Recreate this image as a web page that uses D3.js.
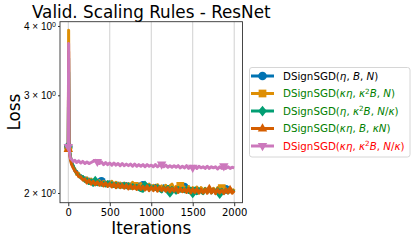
<!DOCTYPE html>
<html><head><meta charset="utf-8">
<script src="https://cdn.jsdelivr.net/npm/d3@7"></script>
<style>body{margin:0;background:#fff}svg{display:block;font-family:"DejaVu Sans",sans-serif}</style>
</head><body><svg id="c" width="415" height="242"></svg>
<script>
const iters = [0,4,8,15,25,40,60,80,100,125,
  150,175,200,225,250,275,300,325,350,375,
  400,425,450,475,500,525,550,575,600,625,
  650,675,700,725,750,775,800,825,850,875,
  900,925,950,975,1000,1025,1050,1075,1100,1125,
  1150,1175,1200,1225,1250,1275,1300,1325,1350,1375,
  1400,1425,1450,1475,1500,1525,1550,1575,1600,1625,
  1650,1675,1700,1725,1750,1775,1800,1825,1850,1875,
  1900,1925,1950,1975,2000];
const lossBlue = [2.42,3.50,2.45,2.37,2.33,2.26,2.24,2.19,2.19,2.15,
  2.15,2.12,2.13,2.09,2.12,2.09,2.11,2.075,2.10,2.07,
  2.10,2.065,2.09,2.06,2.095,2.06,2.085,2.055,2.085,2.06,
  2.08,2.05,2.08,2.045,2.075,2.05,2.07,2.04,2.075,2.045,
  2.065,2.035,2.07,2.04,2.06,2.03,2.065,2.035,2.055,2.03,
  2.06,2.025,2.05,2.03,2.055,2.02,2.05,2.025,2.045,2.02,
  2.05,2.015,2.045,2.02,2.04,2.015,2.045,2.01,2.04,2.015,
  2.035,2.01,2.04,2.005,2.035,2.01,2.035,2.005,2.03,2.01,
  2.03,2.005,2.03,2.01,2.025];
const lossOrange = [2.41,3.93,2.47,2.39,2.32,2.28,2.22,2.21,2.16,2.17,
  2.13,2.14,2.10,2.13,2.09,2.12,2.08,2.11,2.075,2.105,
  2.07,2.10,2.065,2.095,2.07,2.10,2.055,2.09,2.06,2.085,
  2.05,2.085,2.055,2.08,2.045,2.09,2.06,2.075,2.04,2.08,
  2.045,2.07,2.035,2.075,2.04,2.065,2.03,2.07,2.035,2.06,
  2.03,2.065,2.025,2.06,2.075,2.03,2.055,2.02,2.06,2.025,
  2.05,2.015,2.055,2.02,2.045,2.015,2.05,2.01,2.045,2.015,
  2.04,2.01,2.045,2.005,2.04,2.01,2.045,2.005,2.04,2.01,
  2.035,2.005,2.04,2.01,2.035];
const lossGreen = [2.43,3.30,2.44,2.38,2.33,2.27,2.23,2.20,2.17,2.16,
  2.13,2.14,2.10,2.12,2.08,2.11,2.065,2.10,2.07,2.095,
  2.065,2.09,2.06,2.095,2.065,2.085,2.055,2.08,2.05,2.075,
  2.05,2.08,2.045,2.075,2.04,2.07,2.045,2.065,2.03,2.02,
  2.015,2.06,2.04,2.065,2.035,2.055,2.03,2.06,2.025,2.01,
  2.05,2.02,2.055,2.005,2.045,2.02,2.0,2.045,2.015,2.04,
  2.01,2.045,2.005,2.04,2.0,2.04,1.995,2.035,2.01,1.995,
  2.035,2.005,2.04,2.0,2.03,2.005,2.035,1.995,2.03,2.0,
  2.03,2.0,2.03,2.005,2.025];
const lossDark = [2.40,3.60,2.43,2.36,2.30,2.25,2.22,2.19,2.18,2.14,
  2.14,2.11,2.12,2.085,2.11,2.075,2.10,2.07,2.095,2.065,
  2.09,2.06,2.085,2.055,2.08,2.05,2.08,2.045,2.075,2.045,
  2.07,2.04,2.07,2.035,2.065,2.035,2.06,2.03,2.06,2.03,
  2.055,2.025,2.06,2.02,2.05,2.02,2.055,2.015,2.05,2.02,
  2.045,2.015,2.045,2.01,2.04,2.015,2.045,2.005,2.04,2.01,
  2.035,2.005,2.04,2.0,2.035,2.005,2.035,1.998,2.03,2.0,
  2.03,1.998,2.035,2.0,2.03,1.995,2.03,2.0,2.025,1.995,
  2.03,2.0,2.025,1.998,2.02];
const lossPink = [2.42,3.72,2.46,2.36,2.31,2.30,2.28,2.29,2.27,2.285,
  2.265,2.28,2.26,2.275,2.26,2.27,2.28,2.29,2.275,2.26,
  2.275,2.25,2.27,2.25,2.265,2.245,2.265,2.245,2.26,2.24,
  2.26,2.24,2.255,2.24,2.255,2.235,2.255,2.235,2.25,2.235,
  2.25,2.23,2.25,2.235,2.245,2.23,2.25,2.23,2.245,2.25,
  2.23,2.245,2.225,2.24,2.225,2.24,2.225,2.24,2.22,2.235,
  2.22,2.24,2.215,2.235,2.22,2.235,2.215,2.235,2.22,2.23,
  2.215,2.235,2.215,2.23,2.22,2.23,2.21,2.23,2.215,2.235,
  2.215,2.23,2.215,2.225,2.22];
const markBlue = [0,400,900,1400,1900];
const markOrange = [0,800,1350,1850];
const markGreen = [0,325,925,1225,1500,1825];
const markDark = [0,1700,1950];
const markPink = [0,350,1125,1500,1875];
const labels = ["DSignSGD(η, B, N)","DSignSGD(κη, κ^2B, N)","DSignSGD(η, κ^2B, N/κ)","DSignSGD(κη, B, κN)","DSignSGD(κη, κ^2B, N/κ)"];
const xTicks = [0,500,1000,1500,2000];
const yTicks = [2,3,4];
const yTickLabels = ["2","3","4"];
const title = "Valid. Scaling Rules - ResNet";
const xLabel = "Iterations", yLabel = "Loss";

const series = [
  {v:lossBlue, m:markBlue, c:"#0173b2", s:"circle", tc:"#000"},
  {v:lossOrange, m:markOrange, c:"#de8f05", s:"square", tc:"#008000"},
  {v:lossGreen, m:markGreen, c:"#029e73", s:"diamond", tc:"#008000"},
  {v:lossDark, m:markDark, c:"#d55e00", s:"triup", tc:"#008000"},
  {v:lossPink, m:markPink, c:"#cc78bc", s:"tridown", tc:"#ff0000"}
];

const svg = d3.select("#c");
svg.append("rect").attr("width",415).attr("height",242).attr("fill","#fff");
const L=60, R=242.5, T=21.7, B=202.7;
const x = d3.scaleLinear().domain([-100,2100]).range([L,R]);
const y = d3.scaleLog().domain([1.921,4.072]).range([B,T]);

function markerPath(s, r){
  if(s==="diamond") return `M0,${-r*1.25}L${r*1.0},0L0,${r*1.25}L${-r*1.0},0Z`;
  if(s==="triup") return `M0,${-r*1.2}L${r*1.1},${r*0.7}L${-r*1.1},${r*0.7}Z`;
  if(s==="tridown") return `M0,${r*1.2}L${r*1.1},${-r*0.7}L${-r*1.1},${-r*0.7}Z`;
  if(s==="square") return `M${-r*0.9},${-r*0.9}H${r*0.9}V${r*0.9}H${-r*0.9}Z`;
  return d3.symbol(d3.symbolCircle, Math.PI*r*r)();
}

// grid
svg.append("g").selectAll("line").data(xTicks).join("line")
  .attr("x1",d=>x(d)).attr("x2",d=>x(d)).attr("y1",T).attr("y2",B)
  .attr("stroke","#d0d0d0").attr("stroke-width",1);

svg.append("clipPath").attr("id","clip").append("rect").attr("x",L).attr("y",T).attr("width",R-L).attr("height",B-T);
const plot = svg.append("g").attr("clip-path","url(#clip)");
const line = d3.line().x((d,i)=>x(iters[i])).y(d=>y(d));
series.forEach(s=>{
  plot.append("path").attr("d",line(s.v)).attr("fill","none").attr("stroke",s.c)
    .attr("stroke-width",3).attr("stroke-linejoin","round");
  s.m.forEach(it=>{
    const i = iters.indexOf(it);
    plot.append("path").attr("d",markerPath(s.s,4.3))
      .attr("transform",`translate(${x(iters[i])},${y(s.v[i])})`).attr("fill",s.c);
  });
});

// frame
svg.append("rect").attr("x",L).attr("y",T).attr("width",R-L).attr("height",B-T)
  .attr("fill","none").attr("stroke","#333").attr("stroke-width",0.9);

// x axis
const xa = svg.append("g").attr("transform",`translate(0,${B})`)
  .call(d3.axisBottom(x).tickValues(xTicks).tickSize(3.5).tickPadding(3).tickFormat(d3.format("d")));
xa.select(".domain").remove();
xa.selectAll("line").attr("stroke","#333");
xa.selectAll("text").attr("font-size",10).attr("font-family","DejaVu Sans").attr("fill","#000");

// y axis
const ya = svg.append("g").attr("transform",`translate(${L},0)`)
  .call(d3.axisLeft(y).tickValues(yTicks).tickSize(2).tickPadding(3).tickFormat(""));
ya.select(".domain").remove();
ya.selectAll("line").attr("stroke","#333");
ya.selectAll(".tick text").remove();
ya.selectAll(".tick").each(function(d,i){
  const t = d3.select(this).append("text").attr("x",-4).attr("dy","0.32em").attr("text-anchor","end")
    .attr("font-size",10).attr("fill","#000");
  t.append("tspan").text(yTickLabels[i]+" × 10");
  t.append("tspan").attr("font-size",7).attr("dy","-0.45em").text("0");
});

svg.append("text").attr("x",(L+R)/2).attr("y",17.5).attr("text-anchor","middle")
  .attr("font-size",16.8).attr("fill","#000").text(title);
svg.append("text").attr("x",(L+R)/2).attr("y",234).attr("text-anchor","middle")
  .attr("font-size",16.8).attr("fill","#000").text(xLabel);
svg.append("text").attr("transform",`translate(20,${(T+B)/2}) rotate(-90)`).attr("text-anchor","middle")
  .attr("font-size",16.8).attr("fill","#000").text(yLabel);

// legend
const lg = svg.append("g");
lg.append("rect").attr("x",249.5).attr("y",67.5).attr("width",160.5).attr("height",89.5).attr("rx",2.5)
  .attr("fill","#fff").attr("stroke","#d6d6d6").attr("stroke-width",1);
series.forEach((s,i)=>{
  const yy = 76 + i*17.5;
  lg.append("line").attr("x1",251).attr("x2",274).attr("y1",yy).attr("y2",yy).attr("stroke",s.c).attr("stroke-width",3);
  lg.append("path").attr("d",markerPath(s.s,4.3)).attr("transform",`translate(262.5,${yy})`).attr("fill",s.c);
  const t = lg.append("text").attr("x",283).attr("y",yy).attr("dy","0.35em").attr("font-size",10.3).attr("fill",s.tc);
  const lab = labels[i];
  const open = lab.indexOf("(");
  t.append("tspan").text(lab.slice(0,open+1));
  const inner = lab.slice(open+1, lab.length-1);
  let k=0, reset=false;
  while(k<inner.length){
    if(inner.startsWith("^2",k)){
      t.append("tspan").attr("font-size",7.2).attr("dy","-0.45em").attr("font-style","normal").text("2");
      reset=true; k+=2; continue;
    }
    const ch = inner[k];
    const it = /[A-Za-zηκ]/.test(ch);
    const sp = t.append("tspan").attr("font-style",it?"italic":"normal").text(ch);
    if(reset){ sp.attr("dy","0.315em"); reset=false; }
    k++;
  }
  t.append("tspan").text(")");
});
</script></body></html>
